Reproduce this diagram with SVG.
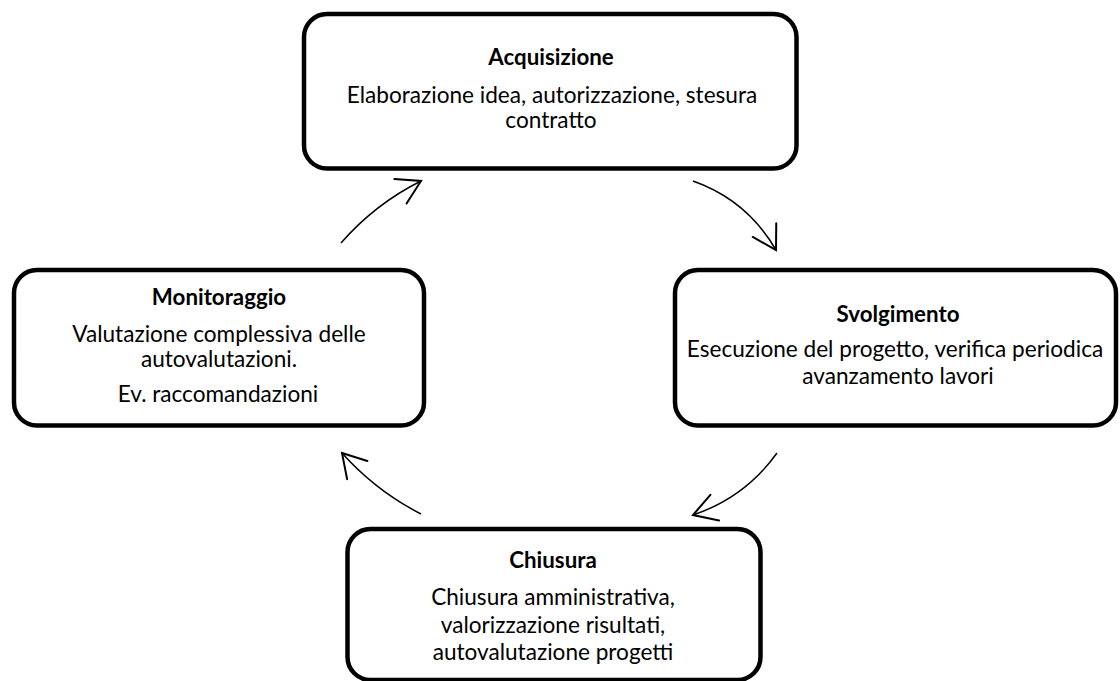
<svg xmlns="http://www.w3.org/2000/svg" width="1120" height="681" viewBox="0 0 1120 681">
  <style>
    .box { fill: #ffffff; stroke: #000000; stroke-width: 4.5; }
    .title { font-family: Lato, "Liberation Sans", sans-serif; font-weight: bold; font-size: 22.3px; fill: #000; text-anchor: middle; }
    .body { font-family: Lato, "Liberation Sans", sans-serif; font-size: 22.6px; fill: #000; text-anchor: middle; }
    .conn { fill: none; stroke: #000; stroke-width: 1.5; marker-end: url(#ah); }
  </style>
  <defs>
    <marker id="ah" markerUnits="userSpaceOnUse" markerWidth="40" markerHeight="40" viewBox="-25 -15 30 30" refX="0" refY="0" orient="auto" overflow="visible">
      <path d="M-17.2,-10.2 L0,0 L-17.2,10.2" fill="none" stroke="#000" stroke-width="1.5" stroke-linecap="round" stroke-linejoin="miter"/>
    </marker>
  </defs>
  <rect width="1120" height="681" fill="#ffffff"/>

  <g id="connectors">
    <path class="conn" d="M341,243 Q375,204 421,181"/>
    <path class="conn" d="M693,181 Q747,200 776,250"/>
    <path class="conn" d="M777,453 Q745,497.5 693,515"/>
    <path class="conn" d="M421,514 Q375.7,490.8 342,453"/>
  </g>

  <g id="acquisizione">
    <rect class="box" x="304" y="14" width="492.5" height="154.5" rx="23" ry="23"/>
    <text class="title" x="551" y="65">Acquisizione</text>
    <text class="body" x="552" y="103">Elaborazione idea, autorizzazione, stesura</text>
    <text class="body" x="551" y="128">contratto</text>
  </g>

  <g id="svolgimento">
    <rect class="box" x="675" y="270" width="441" height="155.5" rx="23" ry="23"/>
    <text class="title" x="898" y="322">Svolgimento</text>
    <text class="body" x="895" y="357">Esecuzione del progetto, verifica periodica</text>
    <text class="body" x="898" y="384">avanzamento lavori</text>
  </g>

  <g id="monitoraggio">
    <rect class="box" x="14" y="270" width="410" height="155.5" rx="23" ry="23"/>
    <text class="title" x="219" y="305">Monitoraggio</text>
    <text class="body" x="219" y="341.5">Valutazione complessiva delle</text>
    <text class="body" x="219" y="367">autovalutazioni.</text>
    <text class="body" x="218" y="402">Ev. raccomandazioni</text>
  </g>

  <g id="chiusura">
    <rect class="box" x="347.5" y="529" width="413" height="151" rx="23" ry="23"/>
    <text class="title" x="553" y="568">Chiusura</text>
    <text class="body" x="553" y="605">Chiusura amministrativa,</text>
    <text class="body" x="553" y="633">valorizzazione risultati,</text>
    <text class="body" x="553" y="660">autovalutazione progetti</text>
  </g>
</svg>
